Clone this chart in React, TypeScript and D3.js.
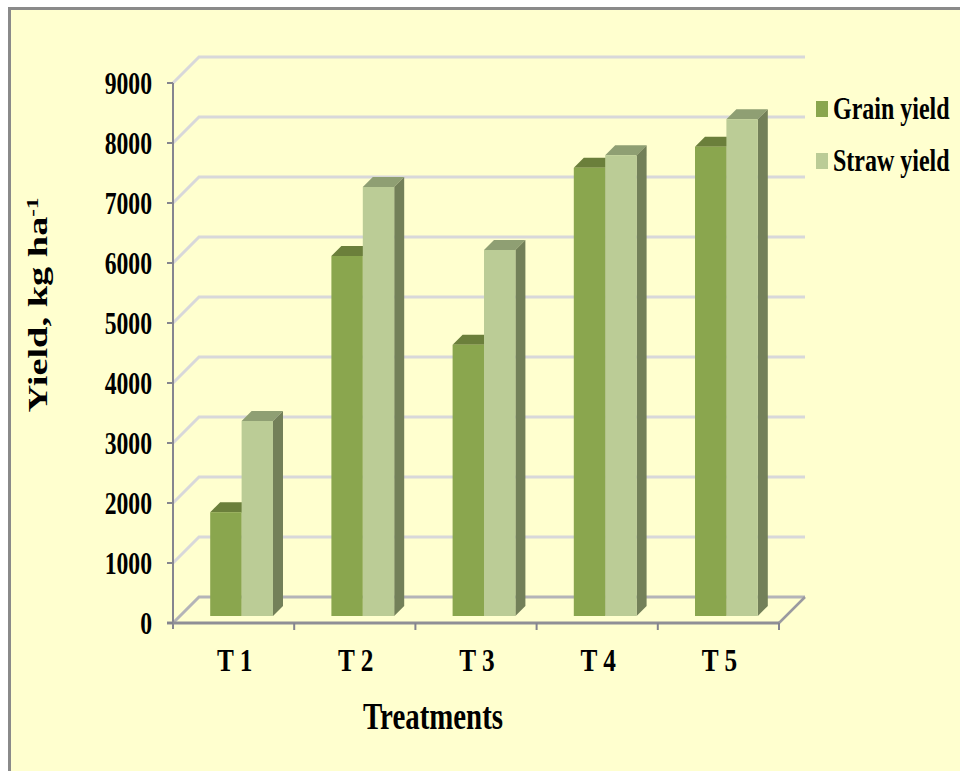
import React from "react";
import * as d3 from "d3";

const categories = ["T 1", "T 2", "T 3", "T 4", "T 5"];
const grainYield = [1730, 6000, 4520, 7470, 7820];
const strawYield = [3250, 7150, 6100, 7680, 8280];
const yTicks = [0, 1000, 2000, 3000, 4000, 5000, 6000, 7000, 8000, 9000];
const legendLabels = ["Grain yield", "Straw yield"];

const FONT = "'Liberation Serif', serif";
const W = 960, H = 771;
const axisLeft = 173, axisRight = 779, axisBottom = 623, axisTop = 83;
const wall = 26;       // depth of the chart box
const barDepth = 10;   // depth of each column
const barLift = 7;     // columns stand slightly behind the front edge
const barShift = 8;

const x = d3.scaleBand<string>().domain(categories).range([axisLeft, axisRight]).paddingInner(0).paddingOuter(0);
const y = d3.scaleLinear().domain([0, 9000]).range([axisBottom, axisTop]);
const barW = 31.4;

function Bar({ left, value, front, top, side }: { left: number; value: number; front: string; top: string; side: string }) {
  const yt = y(value) - barLift;
  const yb = y(0) - barLift;
  const r = left + barW;
  const d = barDepth;
  return (
    <g>
      <polygon points={`${left},${yt} ${left + d},${yt - d} ${r + d},${yt - d} ${r},${yt}`} fill={top} />
      <polygon points={`${r},${yt} ${r + d},${yt - d} ${r + d},${yb - d} ${r},${yb}`} fill={side} />
      <rect x={left} y={yt} width={barW} height={yb - yt} fill={front} />
    </g>
  );
}

// Serif label squeezed horizontally around its anchor point
function Label({ tx, ty, size, sx, anchor = "middle", children }: { tx: number; ty: number; size: number; sx: number; anchor?: string; children: React.ReactNode }) {
  return (
    <text transform={`translate(${tx},${ty}) scale(${sx},1)`} fontFamily={FONT} fontWeight="bold" fontSize={size} textAnchor={anchor} fill="#000">
      {children}
    </text>
  );
}

export default function App() {
  return (
    <svg width={W} height={H} viewBox={`0 0 ${W} ${H}`} style={{ position: "absolute", left: 0, top: 0, display: "block" }}>
      <rect width={W} height={H} fill="#fff" />
      <rect x={9.5} y={8.5} width={W + 10} height={H + 10} fill="#FFFFCF" stroke="#8a8a8a" strokeWidth={3} />

      {/* gridlines on side and back walls */}
      {yTicks.map((t) => (
        <polyline
          key={t}
          points={`${axisLeft},${y(t)} ${axisLeft + wall},${y(t) - wall} ${axisRight + wall},${y(t) - wall}`}
          fill="none"
          stroke={t === 0 ? "#b4b4b8" : "#d8d8da"}
          strokeWidth={3}
        />
      ))}
      {/* floor edge on the right */}
      <line x1={axisRight} y1={y(0)} x2={axisRight + wall} y2={y(0) - wall} stroke="#9a9aa0" strokeWidth={2.5} />

      {/* axes and ticks */}
      <line x1={axisLeft} y1={axisTop} x2={axisLeft} y2={axisBottom + 6} stroke="#85858f" strokeWidth={2} />
      <line x1={axisLeft - 6} y1={axisBottom} x2={axisRight} y2={axisBottom} stroke="#8f8f96" strokeWidth={3} />
      {yTicks.map((t) => (
        <line key={t} x1={axisLeft - 6} x2={axisLeft} y1={y(t)} y2={y(t)} stroke="#85858f" strokeWidth={2} />
      ))}
      {categories.map((c) => (
        <line key={c} x1={(x(c) as number) + x.bandwidth()} x2={(x(c) as number) + x.bandwidth()} y1={axisBottom} y2={axisBottom + 7} stroke="#85858f" strokeWidth={2} />
      ))}

      {/* columns */}
      {categories.map((c, i) => {
        const cx = (x(c) as number) + x.bandwidth() / 2 + barShift;
        return (
          <g key={c}>
            <Bar left={cx - barW} value={grainYield[i]} front="#8AA64E" top="#6B7F3B" side="#6B7F3B" />
            <Bar left={cx} value={strawYield[i]} front="#BBCC96" top="#8F9F73" side="#738059" />
          </g>
        );
      })}

      {/* tick labels */}
      {yTicks.map((t) => (
        <Label key={t} tx={152} ty={y(t) + 11} size={32} sx={0.74} anchor="end">{t}</Label>
      ))}
      {categories.map((c) => (
        <Label key={c} tx={(x(c) as number) + x.bandwidth() / 2 + 1} ty={671} size={32} sx={0.79}>{c}</Label>
      ))}

      {/* axis titles */}
      <Label tx={433} ty={729} size={38} sx={0.76}>Treatments</Label>
      <text transform="translate(47,305) rotate(-90) scale(1.28,0.9)" fontFamily={FONT} fontWeight="bold" fontSize={30} textAnchor="middle" fill="#000">
        Yield, kg ha<tspan dy={-10} fontSize={18}>-1</tspan>
      </text>

      {/* legend */}
      {legendLabels.map((l, i) => (
        <g key={l}>
          <rect x={816} y={101 + i * 52} width={12} height={16} fill={i === 0 ? "#8AA64E" : "#BBCC96"} />
          <Label tx={833} ty={119 + i * 52} size={32} sx={0.75} anchor="start">{l}</Label>
        </g>
      ))}
    </svg>
  );
}
